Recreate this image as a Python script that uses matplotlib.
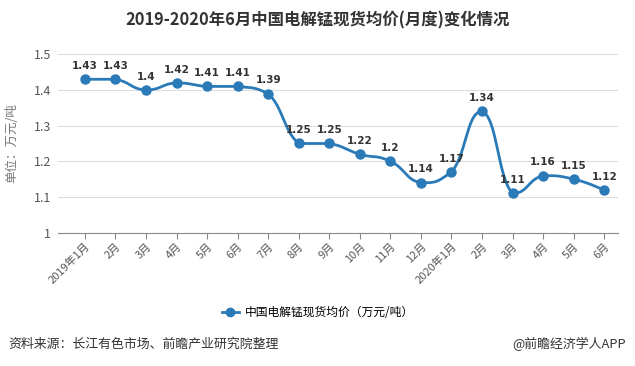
import numpy as np
import matplotlib
matplotlib.use("Agg")
import matplotlib.pyplot as plt
from matplotlib.lines import Line2D

plt.rcParams['font.family'] = ['Noto Sans CJK SC', 'DejaVu Sans']

categories = ["2019年1月", "2月", "3月", "4月", "5月", "6月", "7月", "8月", "9月",
              "10月", "11月", "12月", "2020年1月", "2月", "3月", "4月", "5月", "6月"]
values = [1.43, 1.43, 1.4, 1.42, 1.41, 1.41, 1.39, 1.25, 1.25, 1.22, 1.2, 1.14,
          1.17, 1.34, 1.11, 1.16, 1.15, 1.12]
series_name = "中国电解锰现货均价（万元/吨）"
title = "2019-2020年6月中国电解锰现货均价(月度)变化情况"
y_label = "单位：万元/吨"
y_ticks = [1, 1.1, 1.2, 1.3, 1.4, 1.5]
y_ticklabels = ["1", "1.1", "1.2", "1.3", "1.4", "1.5"]
source = "资料来源：长江有色市场、前瞻产业研究院整理"
credit = "@前瞻经济学人APP"

color = "#2a7ab8"

W, H = 635, 366
fig = plt.figure(figsize=(W / 100, H / 100), dpi=100)
x0, x1 = 58, 618
ytop, ybot = 54.3, 232.7
ax = fig.add_axes([x0 / W, 1 - ybot / H, (x1 - x0) / W, (ybot - ytop) / H])

xs = np.arange(len(values))
ys = np.array(values)

# smooth curve (cubic bezier between points, tangents clamped to segment range)
def smooth(x, y, k=0.25, n=30):
    px, py = [], []
    for i in range(len(x) - 1):
        xm = x[i - 1] if i > 0 else x[i]
        ym = y[i - 1] if i > 0 else y[i]
        xp2 = x[i + 2] if i + 2 < len(x) else x[i + 1]
        yp2 = y[i + 2] if i + 2 < len(y) else y[i + 1]
        lo, hi = min(y[i], y[i + 1]), max(y[i], y[i + 1])
        c1x = x[i] + (x[i + 1] - xm) * k
        c1y = np.clip(y[i] + (y[i + 1] - ym) * k, lo, hi)
        c2x = x[i + 1] - (xp2 - x[i]) * k
        c2y = np.clip(y[i + 1] - (yp2 - y[i]) * k, lo, hi)
        s = np.linspace(0, 1, n)
        bx = (1 - s) ** 3 * x[i] + 3 * (1 - s) ** 2 * s * c1x + 3 * (1 - s) * s ** 2 * c2x + s ** 3 * x[i + 1]
        by = (1 - s) ** 3 * y[i] + 3 * (1 - s) ** 2 * s * c1y + 3 * (1 - s) * s ** 2 * c2y + s ** 3 * y[i + 1]
        px.extend(bx)
        py.extend(by)
    return np.array(px), np.array(py)

sx, sy = smooth(xs.astype(float), ys)
ax.plot(sx, sy, color=color, lw=2, zorder=3)
ax.plot(xs, ys, 'o', color=color, ms=6.5, zorder=4)

for x, v in zip(xs, values):
    ax.annotate(f"{v:g}", (x, v), xytext=(0, 6), textcoords='offset points',
                ha='center', va='bottom', fontsize=7.5, fontweight='bold', color='#333333',
                family=['DejaVu Sans'])

ax.set_xlim(-0.88, 17.45)
ax.set_ylim(1.0, 1.5)
ax.set_yticks(y_ticks)
ax.set_yticklabels(y_ticklabels)
ax.set_xticks(xs)
ax.set_xticklabels(categories, rotation=45, ha='right', rotation_mode='anchor')
ax.grid(axis='y', color='#dddddd', lw=0.8)
ax.set_axisbelow(True)
for s in ['top', 'right', 'left']:
    ax.spines[s].set_visible(False)
ax.spines['bottom'].set_color('#888888')
ax.tick_params(axis='y', length=0, labelsize=9, labelcolor='#555555', pad=5)
ax.tick_params(axis='x', length=4, color='#888888', labelsize=8, labelcolor='#555555', pad=2)
ax.yaxis.set_label_coords((18 - x0) / (x1 - x0), 0.5)
ax.set_ylabel(y_label, fontsize=9, color='#777777')

fig.text(0.5, 1 - 20 / H, title, ha='center', va='center', fontsize=11.8, fontweight='bold', color='#333333')

handle = Line2D([], [], color=color, lw=2, marker='o', ms=6)
fig.legend([handle], [series_name], loc='center', bbox_to_anchor=(318 / W, 1 - 313 / H),
           frameon=False, fontsize=8.5, handlelength=1.4, handletextpad=0.5)

fig.text(8 / W, 1 - 344 / H, source, ha='left', va='center', fontsize=9.3, color='#333333')
fig.text(626 / W, 1 - 344 / H, credit, ha='right', va='center', fontsize=9.3, color='#333333')

fig.savefig("out.png", dpi=100)
